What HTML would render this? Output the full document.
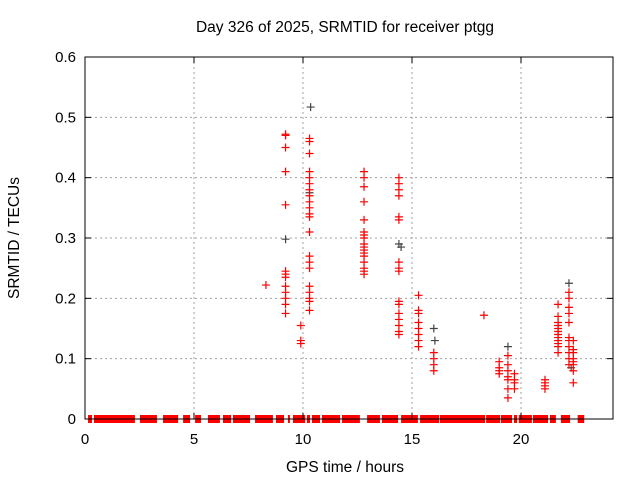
<!DOCTYPE html>
<html><head><meta charset="utf-8"><style>
body{margin:0;background:#fff}
svg{display:block;font-family:"Liberation Sans",sans-serif}
</style></head><body>
<svg id="chart" width="640" height="480">
<text x="345" y="32" font-size="15.5" text-anchor="middle">Day 326 of 2025, SRMTID for receiver ptgg</text>
<text x="345" y="472" font-size="15.5" text-anchor="middle">GPS time / hours</text>
<text transform="translate(19,238) rotate(-90)" font-size="15.5" text-anchor="middle">SRMTID / TECUs</text>
<g id="grid"></g><g id="marks"></g><g id="axes"></g>
</svg>
<script>
const xTicks=[0,5,10,15,20];
const yTicks=[0,0.1,0.2,0.3,0.4,0.5,0.6];
const yTickLabels=["0","0.1","0.2","0.3","0.4","0.5","0.6"];
const clusterTimes=[8.3,9.2,9.9,10.3,12.8,14.4,15.3,16.0,18.3,19.0,19.4,19.7,21.1,21.7,22.2,22.4];
const clusterValues=[
[0.222],
[0.47,0.472,0.45,0.41,0.355,0.245,0.24,0.235,0.22,0.21,0.2,0.19,0.175],
[0.155,0.13,0.125],
[0.465,0.46,0.44,0.41,0.4,0.39,0.38,0.37,0.36,0.35,0.34,0.335,0.31,0.27,0.26,0.25,0.22,0.21,0.2,0.195,0.18],
[0.41,0.4,0.385,0.36,0.33,0.31,0.305,0.3,0.29,0.285,0.28,0.275,0.27,0.26,0.25,0.245,0.24],
[0.4,0.39,0.38,0.37,0.335,0.33,0.26,0.25,0.245,0.195,0.19,0.175,0.165,0.155,0.145,0.14],
[0.205,0.18,0.175,0.16,0.15,0.14,0.13,0.12],
[0.11,0.1,0.09,0.08],
[0.172],
[0.095,0.085,0.08,0.075],
[0.105,0.09,0.08,0.07,0.065,0.05,0.035],
[0.075,0.065,0.06,0.05],
[0.065,0.06,0.055,0.05],
[0.19,0.17,0.16,0.155,0.15,0.145,0.14,0.135,0.13,0.125,0.12,0.11],
[0.21,0.2,0.185,0.175,0.16,0.135,0.13,0.12,0.11,0.1,0.09],
[0.13,0.115,0.11,0.1,0.095,0.09,0.08,0.06]];
const greyTimes=[10.35,9.2,14.4,14.5,16.0,16.05,19.4,22.2,22.3,10.3];
const greyValues=[0.517,0.298,0.29,0.285,0.15,0.13,0.12,0.225,0.085,0.375];
const zeroSegments=[[0.14,0.32],[0.41,2.29],[2.52,3.3],[3.58,4.27],[4.5,4.82],[5.05,5.32],[5.64,6.19],[6.33,6.7],[6.79,7.57],[7.8,8.62],[8.76,9.13],[9.31,9.4],[9.54,10.1],[10.18,10.32],[10.41,10.78],[10.87,11.7],[11.79,12.61],[12.94,13.53],[13.62,14.36],[14.5,15.27],[15.37,16.24],[16.28,18.35],[18.4,19.04],[19.08,19.59],[19.68,19.82],[19.9,20.5],[20.55,21.24],[21.33,21.6],[21.83,22.25],[22.6,22.9]];
const X0=85,X1=613,Y0=419,Y1=57,XMAX=24.22,YMAX=0.6;
const xs=v=>X0+(X1-X0)*v/XMAX, ys=v=>Y0-(Y0-Y1)*v/YMAX;
const NS="http://www.w3.org/2000/svg";
function mk(tag,attrs,parent){const e=document.createElementNS(NS,tag);for(const k in attrs)e.setAttribute(k,attrs[k]);parent.appendChild(e);return e;}
const grid=document.getElementById('grid'),marks=document.getElementById('marks'),axes=document.getElementById('axes');
xTicks.forEach((t,i)=>{const x=xs(t);
 if(t>0){const g=mk('line',{x1:x,x2:x,y1:Y0,y2:Y1,stroke:'#a0a0a0','stroke-dasharray':'2,3'},grid);}
 mk('line',{x1:x,x2:x,y1:Y0,y2:Y0-6,stroke:'#000'},axes);mk('line',{x1:x,x2:x,y1:Y1,y2:Y1+6,stroke:'#000'},axes);
 const l=mk('text',{x:x,y:Y0+25,'font-size':15,'text-anchor':'middle'},axes);l.textContent=String(t);
 
 });
yTicks.forEach((t,i)=>{const y=ys(t);
 if(t>0&&t<YMAX){const g=mk('line',{x1:X0,x2:X1,y1:y,y2:y,stroke:'#a0a0a0','stroke-dasharray':'2,3'},grid);}
 mk('line',{x1:X0,x2:X0+6,y1:y,y2:y,stroke:'#000'},axes);mk('line',{x1:X1,x2:X1-6,y1:y,y2:y,stroke:'#000'},axes);
 const l=mk('text',{x:X0-9,y:y+5,'font-size':15,'text-anchor':'end'},axes);l.textContent=yTickLabels[i];
 
 });
const frame=mk('rect',{x:X0,y:Y1,width:X1-X0,height:Y0-Y1,fill:'none',stroke:'#000'},axes);


function plus(x,y,col){const p=mk('path',{d:`M${xs(x)-4},${ys(y)}h8M${xs(x)},${ys(y)-4}v8`,stroke:col,'stroke-width':1.2},marks);return p;}
greyTimes.forEach((t,i)=>{const p=plus(t,greyValues[i],'#444');
 
 });
clusterTimes.forEach((t,ci)=>{clusterValues[ci].forEach(v=>{const p=plus(t,v,'#f00');
 
 });});
zeroSegments.forEach(s=>{const r=mk('rect',{x:xs(s[0]),y:Y0-4,width:xs(s[1])-xs(s[0]),height:8,fill:'#f00'},marks);
 
 });
mk('line',{x1:X0,x2:X1,y1:Y0,y2:Y0,stroke:'#000'},axes);
</script>
</body></html>
